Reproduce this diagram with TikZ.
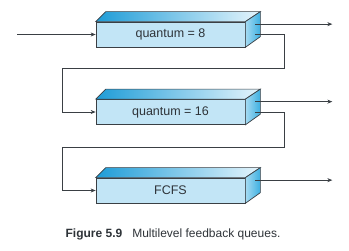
\documentclass[tikz,border=0pt]{standalone}
\usepackage{fontspec}
\setmainfont{Liberation Sans}
\usetikzlibrary{positioning,arrows.meta,calc}
\usepackage{xcolor}
\definecolor{qedge}{HTML}{3A3F44}
\definecolor{qfront}{HTML}{C2E5F6}
\definecolor{qtopL}{HTML}{1E9CD7}
\definecolor{qtopR}{HTML}{E6F5FC}
\definecolor{qsideL}{HTML}{A6DBF2}
\definecolor{qsideR}{HTML}{3DAFE1}
\definecolor{qtext}{HTML}{2E3338}

\begin{document}
\begin{tikzpicture}[x=1pt,y=-1pt,>={Stealth[length=5pt,width=4pt]},
  queue/.style={draw=qedge,fill=qfront,line width=0.7pt,minimum width=149pt,minimum height=25pt,inner sep=0pt,text=qtext,font=\fontsize{12.5}{14}\selectfont},
  conn/.style={draw=qedge,line width=0.8pt}]
\useasboundingbox (0,0) rectangle (349,251);
\node[queue] (q1) at (170.5,34.5) {quantum = 8};
\node[queue] (q2) at (170.5,112) {quantum = 16};
\node[queue] (q3) at (170.5,190.5) {FCFS};
% top and side faces of each queue
\foreach \q in {q1,q2,q3} {
  \shadedraw[draw=qedge,line width=0.7pt,left color=qtopL,right color=qtopR] (\q.north west) -- ++(10,-10) -- ($(\q.north east)+(15,-10)$) -- (\q.north east) -- cycle;
  \shadedraw[draw=qedge,line width=0.7pt,left color=qsideL,right color=qsideR] (\q.north east) -- ++(15,-10) -- ++(0,25) -- (\q.south east) -- cycle;
  \coordinate (\q o) at ($(\q.north east)+(10,2.5)$);
  \coordinate (\q e) at ($(\q.north east)+(87,2.5)$);
  \coordinate (\q f) at ($(\q.east)+(10,0)$);
  \draw[conn,->] (\q o) -- (\q e);
}
\coordinate (in) at (17,34.5);
\draw[conn,->] (in) -- (q1.west);
\draw[conn,->] (q1f) -- (284,34.5) -- (284,68) -- (62,68) |- (q2.west);
\draw[conn,->] (q2f) -- (284,112) -- (284,147) -- (62,147) |- (q3.west);
\node[text=qtext,font=\fontsize{12}{14}\selectfont] (cap) at (173,234) {\textbf{Figure 5.9}\hspace{10pt}Multilevel feedback queues.};
\end{tikzpicture}
\end{document}
